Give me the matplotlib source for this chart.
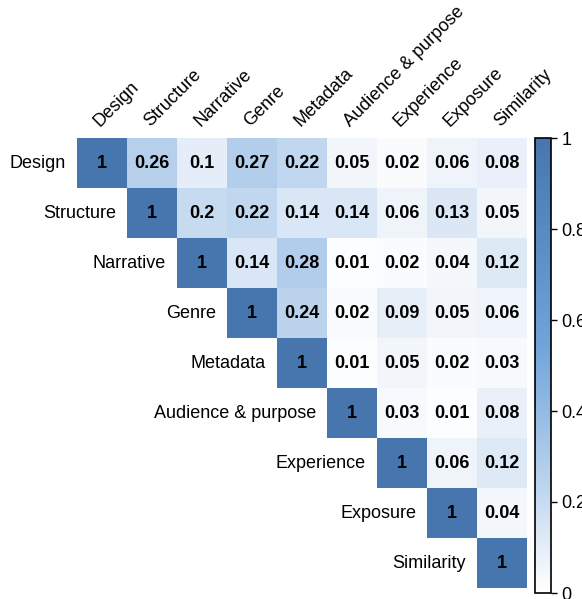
import matplotlib
matplotlib.use("Agg")
import matplotlib.pyplot as plt
import numpy as np
from matplotlib.colors import LinearSegmentedColormap

plt.rcParams['font.family'] = ['Liberation Sans', 'DejaVu Sans']

labels = ["Design", "Structure", "Narrative", "Genre", "Metadata",
          "Audience & purpose", "Experience", "Exposure", "Similarity"]

# upper triangle rows (from the diagonal onwards)
rows = [
    [1, 0.26, 0.1, 0.27, 0.22, 0.05, 0.02, 0.06, 0.08],
    [1, 0.2, 0.22, 0.14, 0.14, 0.06, 0.13, 0.05],
    [1, 0.14, 0.28, 0.01, 0.02, 0.04, 0.12],
    [1, 0.24, 0.02, 0.09, 0.05, 0.06],
    [1, 0.01, 0.05, 0.02, 0.03],
    [1, 0.03, 0.01, 0.08],
    [1, 0.06, 0.12],
    [1, 0.04],
    [1],
]
cbar_ticks = [0, 0.2, 0.4, 0.6, 0.8, 1]

n = len(labels)
mat = np.full((n, n), np.nan)
for i, r in enumerate(rows):
    mat[i, i:] = r

cmap = LinearSegmentedColormap.from_list(
    "bl", [(0, "#ffffff"), (0.1, "#e4edf8"), (0.25, "#b9d2ed"),
           (0.55, "#6fa3da"), (1, "#4676ad")])

fig = plt.figure(figsize=(5.82, 5.99), dpi=100)
ax = fig.add_axes([77/582, 11/599, 450/582, 450/599])
im = ax.imshow(mat, cmap=cmap, vmin=0, vmax=1, aspect="auto")
ax.set_xlim(-0.5, n - 0.5)
ax.set_ylim(n - 0.5, -0.5)
ax.axis("off")

fs = 13
for i in range(n):
    for j in range(i, n):
        v = mat[i, j]
        ax.text(j, i, f"{v:g}", ha="center", va="center",
                fontsize=fs, fontweight="bold", color="black")
    # row label left of the diagonal cell
    ax.text(i - 0.72, i, labels[i], ha="right", va="center", fontsize=fs)
    # column label on top
    ax.text(i + 0.02, -0.66, labels[i], ha="left", va="bottom", rotation=45,
            rotation_mode="anchor", fontsize=fs, clip_on=False)

cax = fig.add_axes([535/582, 6/599, 16/582, 455/599])
cb = fig.colorbar(im, cax=cax, ticks=cbar_ticks)
cb.ax.set_yticklabels([f"{t:g}" for t in cbar_ticks], fontsize=fs)
cb.outline.set_linewidth(1.2)
cb.ax.tick_params(length=4, width=1)

fig.savefig("out.png", dpi=100)
